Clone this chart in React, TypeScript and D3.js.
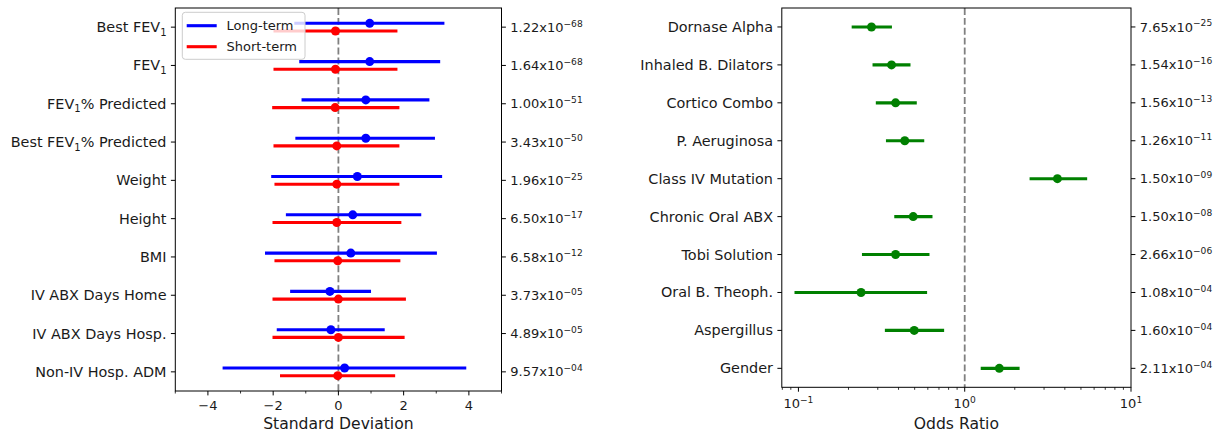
import React from "react";
import * as d3 from "d3";

// ---- Left panel: standardized effect of each clinical measure ----
const measures = [
  "Best FEV{1}",
  "FEV{1}",
  "FEV{1}% Predicted",
  "Best FEV{1}% Predicted",
  "Weight",
  "Height",
  "BMI",
  "IV ABX Days Home",
  "IV ABX Days Hosp.",
  "Non-IV Hosp. ADM",
];
const longMean = [0.96, 0.96, 0.84, 0.84, 0.58, 0.44, 0.38, -0.26, -0.23, 0.19];
const longLow = [-1.35, -1.2, -1.13, -1.32, -2.06, -1.61, -2.25, -1.48, -1.89, -3.55];
const longHigh = [3.25, 3.12, 2.79, 2.96, 3.18, 2.54, 3.02, 1.0, 1.42, 3.92];
const shortMean = [-0.09, -0.09, -0.1, -0.05, -0.05, -0.05, -0.02, 0.0, 0.0, -0.02];
const shortLow = [-1.99, -1.99, -2.03, -1.99, -1.96, -2.02, -1.96, -2.02, -2.02, -1.79];
const shortHigh = [1.81, 1.81, 1.87, 1.87, 1.87, 1.93, 1.9, 2.07, 2.03, 1.74];
const measurePMant = ["1.22", "1.64", "1.00", "3.43", "1.96", "6.50", "6.58", "3.73", "4.89", "9.57"];
const measurePExp = ["68", "68", "51", "50", "25", "17", "12", "05", "05", "04"];
const sdTicks = [-4, -2, 0, 2, 4];
const sdMinorTicks = [-5, -3, -1, 1, 3, 5];

// ---- Right panel: odds ratios of risk factors ----
const factors = [
  "Dornase Alpha",
  "Inhaled B. Dilators",
  "Cortico Combo",
  "P. Aeruginosa",
  "Class IV Mutation",
  "Chronic Oral ABX",
  "Tobi Solution",
  "Oral B. Theoph.",
  "Aspergillus",
  "Gender",
];
const orMean = [0.275, 0.363, 0.384, 0.436, 3.61, 0.49, 0.384, 0.238, 0.497, 1.615];
const orLow = [0.209, 0.279, 0.292, 0.336, 2.455, 0.377, 0.241, 0.0947, 0.331, 1.248];
const orHigh = [0.365, 0.472, 0.515, 0.571, 5.45, 0.64, 0.614, 0.594, 0.752, 2.138];
const factorPMant = ["7.65", "1.54", "1.56", "1.26", "1.50", "1.50", "2.66", "1.08", "1.60", "2.11"];
const factorPExp = ["25", "16", "13", "11", "09", "08", "06", "04", "04", "04"];
const orTickExps = [-1, 0, 1];
const orMinorTicks = [0.08, 0.09, 0.2, 0.3, 0.4, 0.5, 0.6, 0.7, 0.8, 0.9, 2, 3, 4, 5, 6, 7, 8, 9];

const FONT = "DejaVu Sans";
const TXT = "#1a1a1a";
const FS = 13; // ticks, legend, p-values
const ROW_FS = 14.4; // category labels
const ROW_SUB = 10;
const SUP = 9.1;
const MAJ = 4.4;
const MIN = 2.5;
const MINUS = "\u2212";
const MARK_R = 4.5;
const LW = 3.1;

function SubLabel({ text, x, y }: { text: string; x: number; y: number }) {
  // "{1}" marks a subscript
  const parts = text.split(/(\{[^}]*\})/).filter((p) => p.length > 0);
  let shifted = false;
  return (
    <text x={x} y={y} textAnchor="end" fontFamily={FONT} fontSize={ROW_FS} fill={TXT}>
      {parts.map((p, i) => {
        if (p.startsWith("{")) {
          shifted = true;
          return (
            <tspan key={i} dy={3.7} fontSize={ROW_SUB}>
              {p.slice(1, -1)}
            </tspan>
          );
        }
        const dy = shifted ? -3.7 : 0;
        shifted = false;
        return (
          <tspan key={i} dy={dy}>
            {p}
          </tspan>
        );
      })}
    </text>
  );
}

function PLabel({ mant, exp, x, y }: { mant: string; exp: string; x: number; y: number }) {
  return (
    <text x={x} y={y} fontFamily={FONT} fontSize={FS} fill={TXT}>
      <tspan>{mant}x10</tspan>
      <tspan dy={-5.2} fontSize={SUP}>
        {MINUS + exp}
      </tspan>
    </text>
  );
}

export default function App() {
  // left panel frame
  const L = { x0: 175.3, x1: 501.5, y0: 8, y1: 391 };
  const xL = d3.scaleLinear().domain([-5, 5]).range([L.x0, L.x1]);
  const yL = d3.scaleLinear().domain([-0.5, 9.5]).range([L.y0, L.y1]);
  const off = 0.1;

  // right panel frame
  const R = { x0: 781.8, x1: 1131, y0: 8, y1: 387.3 };
  const xR = d3.scaleLog().domain([Math.pow(10, -1.1), 10]).range([R.x0, R.x1]);
  const yR = d3.scaleLinear().domain([-0.5, 9.5]).range([R.y0, R.y1]);

  const dash = "6.9 3";
  const rows = d3.range(measures.length);

  return (
    <svg
      width={1225}
      height={432}
      style={{ position: "absolute", left: 0, top: 0, background: "#fff" }}
    >
      <rect x={0} y={0} width={1225} height={432} fill="#fff" />

      {/* ===== left panel ===== */}
      <g>
        <line x1={xL(0)} x2={xL(0)} y1={L.y0} y2={L.y1} stroke="#808080" strokeWidth={1.8} strokeDasharray={dash} />
        {rows.map((i) => (
          <g key={"lt" + i}>
            <line x1={xL(longLow[i])} x2={xL(longHigh[i])} y1={yL(i - off)} y2={yL(i - off)} stroke="#0000ff" strokeWidth={LW} />
            <circle cx={xL(longMean[i])} cy={yL(i - off)} r={MARK_R} fill="#0000ff" />
          </g>
        ))}
        {rows.map((i) => (
          <g key={"st" + i}>
            <line x1={xL(shortLow[i])} x2={xL(shortHigh[i])} y1={yL(i + off)} y2={yL(i + off)} stroke="#ff0000" strokeWidth={LW} />
            <circle cx={xL(shortMean[i])} cy={yL(i + off)} r={MARK_R} fill="#ff0000" />
          </g>
        ))}
        <rect x={L.x0} y={L.y0} width={L.x1 - L.x0} height={L.y1 - L.y0} fill="none" stroke="#000" strokeWidth={1} />
        {/* y ticks on both sides */}
        {rows.map((i) => (
          <g key={"ly" + i}>
            <line x1={L.x0 - MAJ} x2={L.x0} y1={yL(i)} y2={yL(i)} stroke="#000" strokeWidth={1} />
            <line x1={L.x1} x2={L.x1 + MAJ} y1={yL(i)} y2={yL(i)} stroke="#000" strokeWidth={1} />
            <SubLabel text={measures[i]} x={L.x0 - MAJ - 4.4} y={yL(i) + 5} />
            <PLabel mant={measurePMant[i]} exp={measurePExp[i]} x={L.x1 + MAJ + 4.4} y={yL(i) + 4.6} />
          </g>
        ))}
        {/* x ticks */}
        {sdTicks.map((t) => (
          <g key={"lx" + t}>
            <line x1={xL(t)} x2={xL(t)} y1={L.y1} y2={L.y1 + MAJ} stroke="#000" strokeWidth={1} />
            <text x={xL(t)} y={409.6} textAnchor="middle" fontFamily={FONT} fontSize={FS} fill={TXT}>
              {t < 0 ? MINUS + Math.abs(t) : String(t)}
            </text>
          </g>
        ))}
        {sdMinorTicks.map((t) => (
          <line key={"lm" + t} x1={xL(t)} x2={xL(t)} y1={L.y1} y2={L.y1 + MIN} stroke="#000" strokeWidth={0.8} />
        ))}
        <text x={(L.x0 + L.x1) / 2} y={429} textAnchor="middle" fontFamily={FONT} fontSize={15.6} fill={TXT}>
          Standard Deviation
        </text>

        {/* legend */}
        <rect x={182.3} y={12.3} width={122.7} height={47} rx={3} fill="#fff" fillOpacity={0.8} stroke="#cccccc" strokeWidth={1} />
        <line x1={186.7} x2={216.7} y1={25.7} y2={25.7} stroke="#0000ff" strokeWidth={LW} />
        <text x={226.5} y={30.4} fontFamily={FONT} fontSize={FS} fill={TXT}>
          Long-term
        </text>
        <line x1={186.7} x2={216.7} y1={46.7} y2={46.7} stroke="#ff0000" strokeWidth={LW} />
        <text x={226.5} y={51.4} fontFamily={FONT} fontSize={FS} fill={TXT}>
          Short-term
        </text>
      </g>

      {/* ===== right panel ===== */}
      <g>
        <line x1={xR(1)} x2={xR(1)} y1={R.y0} y2={R.y1} stroke="#808080" strokeWidth={1.8} strokeDasharray={dash} />
        {rows.map((i) => (
          <g key={"or" + i}>
            <line x1={xR(orLow[i])} x2={xR(orHigh[i])} y1={yR(i)} y2={yR(i)} stroke="#008000" strokeWidth={LW} />
            <circle cx={xR(orMean[i])} cy={yR(i)} r={MARK_R} fill="#008000" />
          </g>
        ))}
        <rect x={R.x0} y={R.y0} width={R.x1 - R.x0} height={R.y1 - R.y0} fill="none" stroke="#000" strokeWidth={1} />
        {rows.map((i) => (
          <g key={"ry" + i}>
            <line x1={R.x0 - MAJ} x2={R.x0} y1={yR(i)} y2={yR(i)} stroke="#000" strokeWidth={1} />
            <line x1={R.x1} x2={R.x1 + MAJ} y1={yR(i)} y2={yR(i)} stroke="#000" strokeWidth={1} />
            <SubLabel text={factors[i]} x={R.x0 - MAJ - 4.4} y={yR(i) + 5} />
            <PLabel mant={factorPMant[i]} exp={factorPExp[i]} x={R.x1 + MAJ + 4.4} y={yR(i) + 4.6} />
          </g>
        ))}
        {orTickExps.map((e) => {
          const x = xR(Math.pow(10, e));
          return (
            <g key={"rx" + e}>
              <line x1={x} x2={x} y1={R.y1} y2={R.y1 + MAJ} stroke="#000" strokeWidth={1} />
              <text x={x} y={407.9} textAnchor="middle" fontFamily={FONT} fontSize={FS} fill={TXT}>
                <tspan>10</tspan>
                <tspan dy={-5.2} fontSize={SUP}>
                  {e < 0 ? MINUS + Math.abs(e) : String(e)}
                </tspan>
              </text>
            </g>
          );
        })}
        {orMinorTicks.map((t) => (
          <line key={"rm" + t} x1={xR(t)} x2={xR(t)} y1={R.y1} y2={R.y1 + MIN} stroke="#000" strokeWidth={0.8} />
        ))}
        <text x={(R.x0 + R.x1) / 2} y={429} textAnchor="middle" fontFamily={FONT} fontSize={15.6} fill={TXT}>
          Odds Ratio
        </text>
      </g>
    </svg>
  );
}
